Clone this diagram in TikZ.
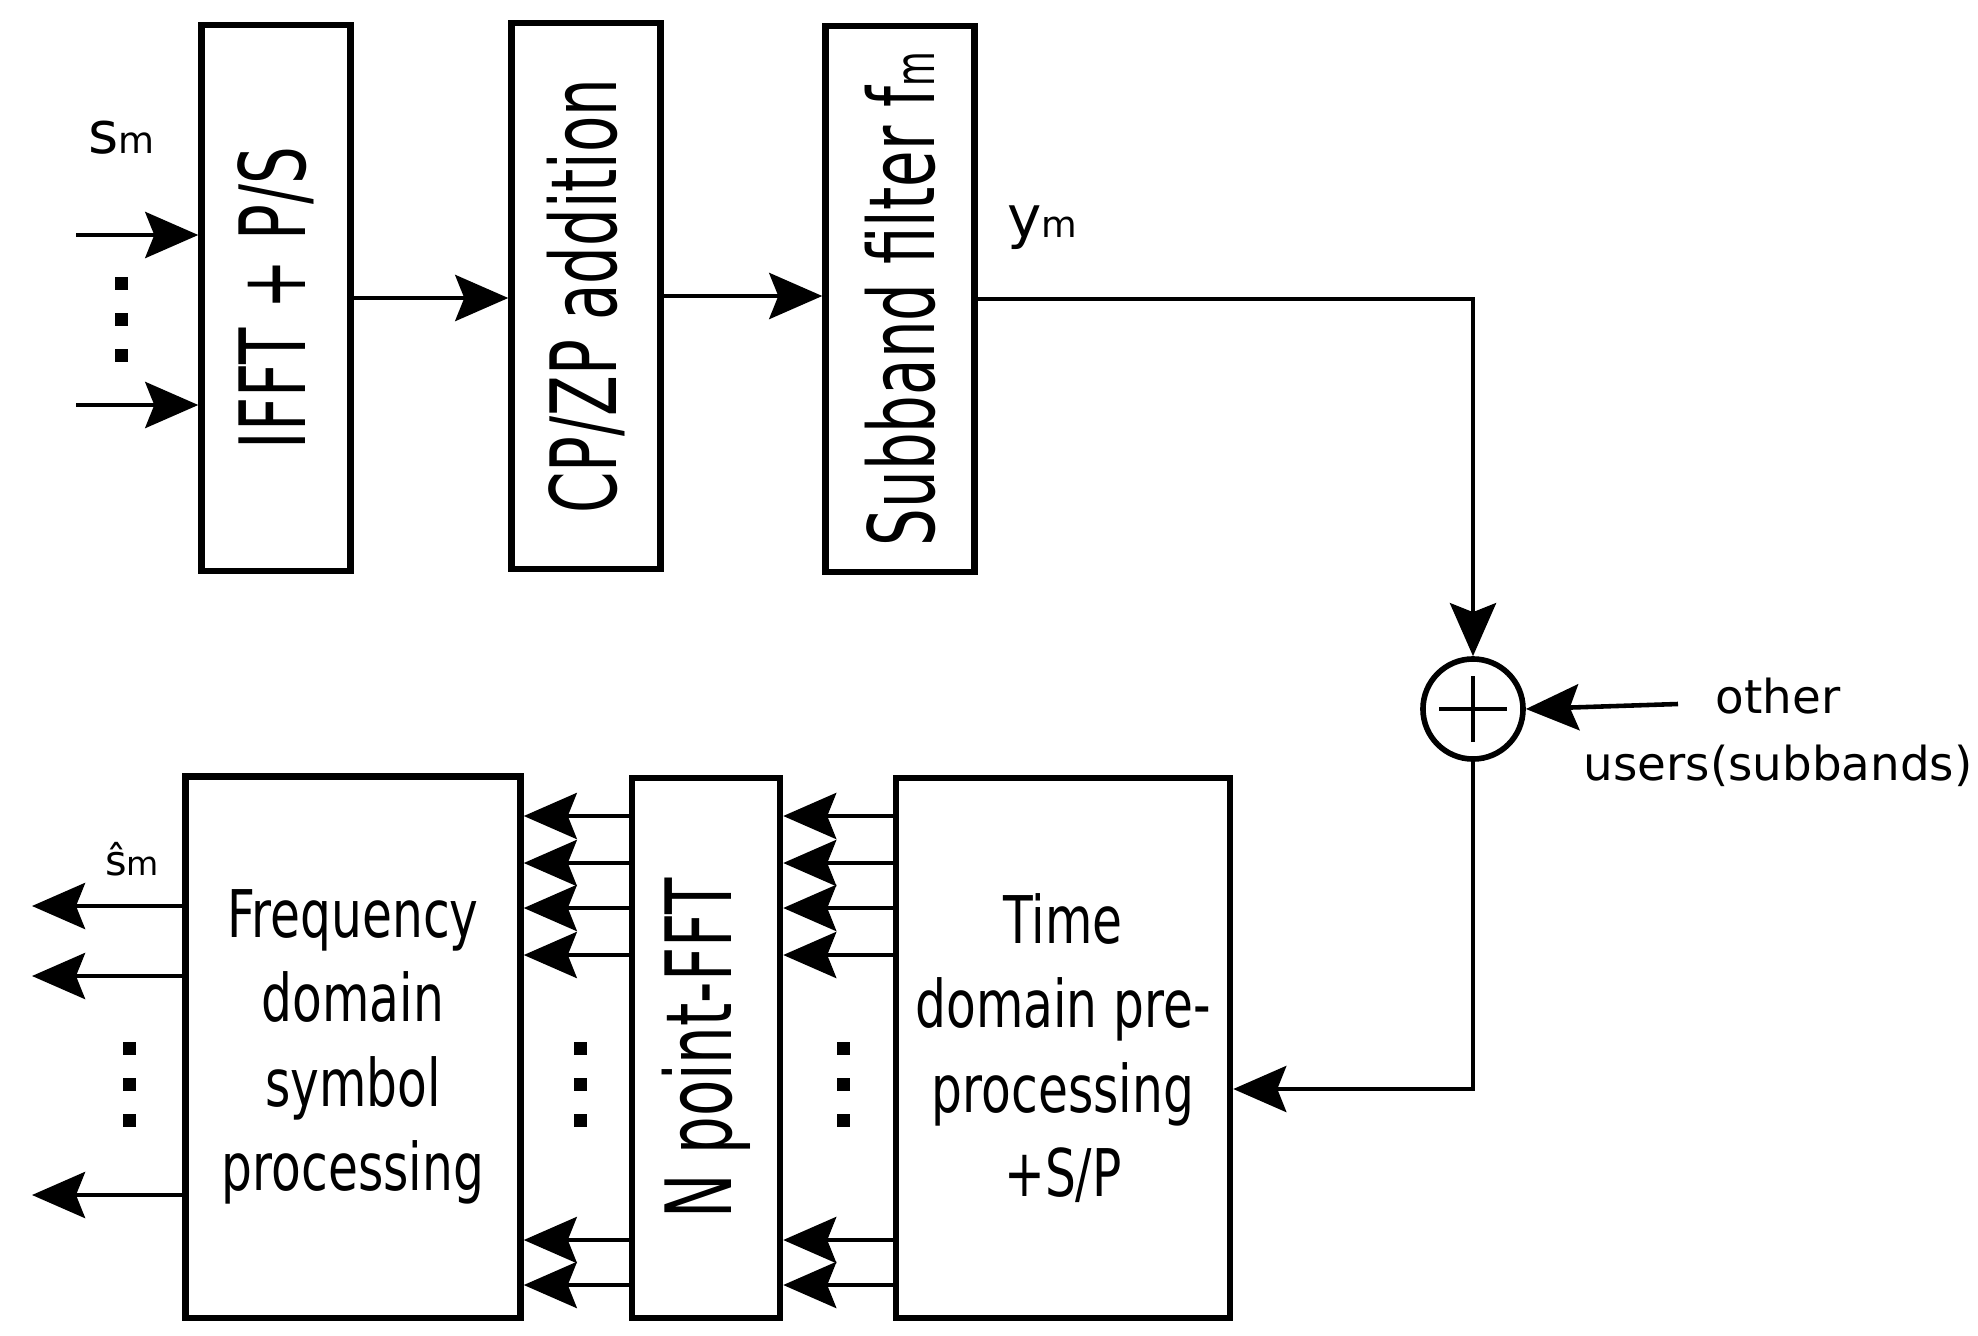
\documentclass[tikz,border=0pt]{standalone}
\usepackage{fontspec}
\setmainfont{DejaVu Sans}
\newfontfamily\hbfont[FakeStretch=0.74]{DejaVu Sans}
\newfontfamily\vbfont[FakeStretch=0.65]{DejaVu Sans}
\usetikzlibrary{positioning,arrows.meta}
\newcommand{\msub}[1]{{\fontsize{#1}{#1}\selectfont m}}

\begin{document}
\begin{tikzpicture}[x=0.01cm, y=-0.01cm, line width=1.3pt]
    \tikzset{
        block/.style={draw, line width=1.8pt, inner sep=0pt, minimum width=1.49cm, minimum height=5.46cm,
            font=\vbfont\fontsize{26}{30}\selectfont},
        wide/.style={draw, line width=1.8pt, inner sep=0pt, minimum width=3.35cm, minimum height=5.41cm,
            align=center, font=\hbfont\fontsize{18.7}{24}\selectfont},
        arr/.style={-{Stealth[length=5.3mm, width=4.6mm, inset=0.9mm]}, line width=1.3pt},
        lbl/.style={inner sep=0pt, anchor=base west, font=\fontsize{16.5}{18}\selectfont}
    }
    \useasboundingbox (0,0) rectangle (1978,1336);

    % transmitter
    \node[block] (ifft) at (276,298) {\rotatebox{90}{IFFT + P/S}};
    \node[block] (cpzp) at (586,296) {\rotatebox{90}{CP/ZP addition}};
    \node[block] (sbf) at (900,299) {\rotatebox{90}{Subband filter f\msub{15.6}}};
    \node[circle, draw, line width=1.6pt, minimum size=1cm, inner sep=0pt] (sum) at (1473,709) {};
    \draw[line width=1pt] ([xshift=-0.335cm]sum.center) -- ([xshift=0.335cm]sum.center)
        ([yshift=-0.33cm]sum.center) -- ([yshift=0.33cm]sum.center);

    % receiver
    \node[wide] (fdsp) at (353,1047) {Frequency\\domain\\symbol\\processing};
    \node[block, minimum height=5.40cm, minimum width=1.48cm] (fft) at (706,1048) {\rotatebox{90}{N point-FFT}};
    \node[wide, minimum height=5.40cm, minimum width=3.34cm] (tdp) at (1063,1048) {Time\\domain pre-\\processing\\+S/P};

    \node[lbl] (sm) at (86,153) {s\msub{10.5}};
    \node[lbl] (ym) at (1005,237) {y\msub{10.4}};
    \node[lbl, font=\fontsize{11.8}{14}\selectfont] (shat) at (103,875) {\^{s}\msub{9.4}};
    \node[anchor=base, align=center, inner sep=0pt, font=\fontsize{13.3}{18.8}\selectfont] (others) at (1778,780)
        {other\\users(subbands)};

    \coordinate (in1) at (76,235);
    \coordinate (in2) at (76,405);
    \coordinate (oth) at (1678,704);

    \draw[arr] (in1) -- (in1 -| ifft.west);
    \draw[arr] (in2) -- (in2 -| ifft.west);
    \draw[arr] (ifft.east) -- (ifft.east -| cpzp.west);
    \draw[arr] (cpzp.east) -- (cpzp.east -| sbf.west);
    \draw[arr] (sbf.east) -| (sum.north);
    \draw[arr] (oth) -- (sum.east);
    \draw[arr] (sum.south) |- (tdp.east |- 0,1089);

    \foreach \y in {816,863,908,955,1240,1285} {
        \draw[arr] (tdp.west |- 0,\y) -- (fft.east |- 0,\y);
        \draw[arr] (fft.west |- 0,\y) -- (fdsp.east |- 0,\y);
    }
    \foreach \y in {906,976,1195} {
        \coordinate (out\y) at (32,\y);
        \draw[arr] (fdsp.west |- out\y) -- (out\y);
    }

    \foreach \x/\y in {121/283,121/319,121/355,
                       129/1048,129/1084,129/1120,
                       580/1048,580/1084,580/1120,
                       843/1048,843/1084,843/1120}
        \fill (\x-6.5,\y-6.5) rectangle ++(13,13);
\end{tikzpicture}
\end{document}
